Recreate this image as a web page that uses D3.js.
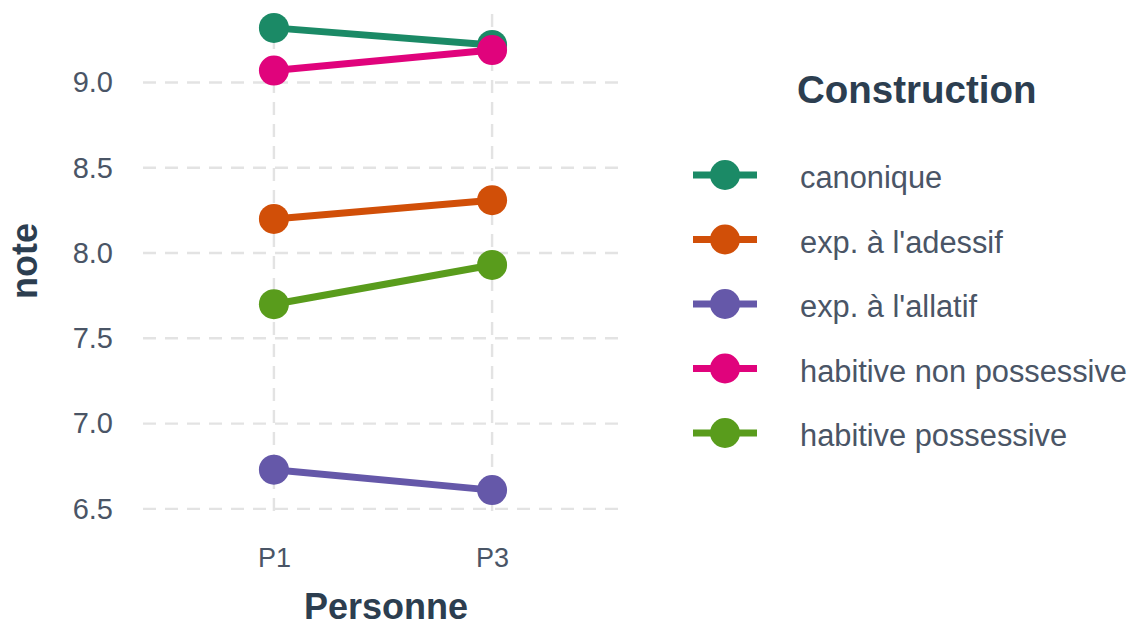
<!DOCTYPE html>
<html><head><meta charset="utf-8">
<script src="https://cdn.jsdelivr.net/npm/d3@7"></script>
<style>body{margin:0;background:#fff;}svg{display:block;font-family:"Liberation Sans",Arial,sans-serif;}</style>
</head><body><svg id="c" width="1137" height="627"></svg>
<script>
const personnes = ["P1", "P3"];
const constructions = ["canonique", "exp. à l'adessif", "exp. à l'allatif", "habitive non possessive", "habitive possessive"];
const canonique = [9.32, 9.22];
const adessif = [8.20, 8.31];
const allatif = [6.73, 6.61];
const habNonPoss = [9.07, 9.19];
const habPoss = [7.70, 7.93];
const yTicks = [6.5, 7.0, 7.5, 8.0, 8.5, 9.0];
const colors = ["#1B8A66", "#D14F08", "#6558A9", "#E0037C", "#599C1C"];

const seriesValues = [canonique, adessif, allatif, habNonPoss, habPoss];
const svg = d3.select("#c");
const panel = {left: 143, right: 623, top: 4, bottom: 514};

const x = d3.scalePoint().domain(personnes).range([panel.left, panel.right]).padding(0.6);
const y = d3.scaleLinear().domain([6.47, 9.46]).range([panel.bottom, panel.top]);
const color = d3.scaleOrdinal().domain(constructions).range(colors);

// gridlines
const grid = svg.append("g");
grid.selectAll("line.h").data(yTicks).join("line")
  .attr("x1", panel.left).attr("x2", panel.right)
  .attr("y1", d => y(d)).attr("y2", d => y(d))
  .attr("stroke", "#e3e3e3").attr("stroke-width", 2.4).attr("stroke-dasharray", "13,9");
grid.selectAll("line.v").data(personnes).join("line")
  .attr("x1", d => x(d)).attr("x2", d => x(d))
  .attr("y1", panel.top + 10).attr("y2", panel.bottom)
  .attr("stroke", "#e3e3e3").attr("stroke-width", 2.4).attr("stroke-dasharray", "13,9");

// axes
const yAxis = d3.axisLeft(y).tickValues(yTicks).tickFormat(d3.format(".1f")).tickSize(0).tickPadding(0);
const ga = svg.append("g").attr("transform", `translate(113,0)`).call(yAxis);
ga.select(".domain").remove();
ga.selectAll("text").attr("font-size", 29).attr("fill", "#4a5566").attr("font-family", "Liberation Sans, Arial, sans-serif");

const xAxis = d3.axisBottom(x).tickSize(0).tickPadding(0);
const gx = svg.append("g").attr("transform", `translate(0,0)`).call(xAxis);
gx.select(".domain").remove();
gx.selectAll("text").attr("y", 567).attr("dy", null).attr("font-size", 27).attr("fill", "#4a5566").attr("font-family", "Liberation Sans, Arial, sans-serif");

// axis titles
svg.append("text").attr("x", 386).attr("y", 619).attr("text-anchor", "middle")
  .attr("font-size", 36).attr("font-weight", "bold").attr("fill", "#2c3e50").text("Personne");
svg.append("text").attr("transform", "translate(37,261) rotate(-90)").attr("text-anchor", "middle")
  .attr("font-size", 36).attr("font-weight", "bold").attr("fill", "#2c3e50").text("note");

// lines and points
const data = constructions.map((c, i) => ({name: c, values: personnes.map((p, j) => ({p, v: seriesValues[i][j]}))}));
const line = d3.line().x(d => x(d.p)).y(d => y(d.v));
const gs = svg.append("g").selectAll("g").data(data).join("g");
gs.append("path").attr("d", d => line(d.values)).attr("fill", "none")
  .attr("stroke", d => color(d.name)).attr("stroke-width", 7);
gs.selectAll("circle").data(d => d.values.map(v => ({...v, name: d.name}))).join("circle")
  .attr("cx", d => x(d.p)).attr("cy", d => y(d.v)).attr("r", 15)
  .attr("fill", d => color(d.name));

// legend
const lg = svg.append("g");
lg.append("text").attr("x", 797).attr("y", 103).attr("font-size", 38.5).attr("font-weight", "bold")
  .attr("fill", "#2c3e50").text("Construction");
const rows = lg.selectAll("g").data(constructions).join("g")
  .attr("transform", (d, i) => `translate(0,${175 + i * 64.5})`);
rows.append("line").attr("x1", 693).attr("x2", 757).attr("y1", 0).attr("y2", 0)
  .attr("stroke", d => color(d)).attr("stroke-width", 7);
rows.append("circle").attr("cx", 725).attr("cy", 0).attr("r", 15).attr("fill", d => color(d));
rows.append("text").attr("x", 800).attr("y", 13).attr("font-size", 30.8).attr("fill", "#4a5566").text(d => d);
</script></body></html>
